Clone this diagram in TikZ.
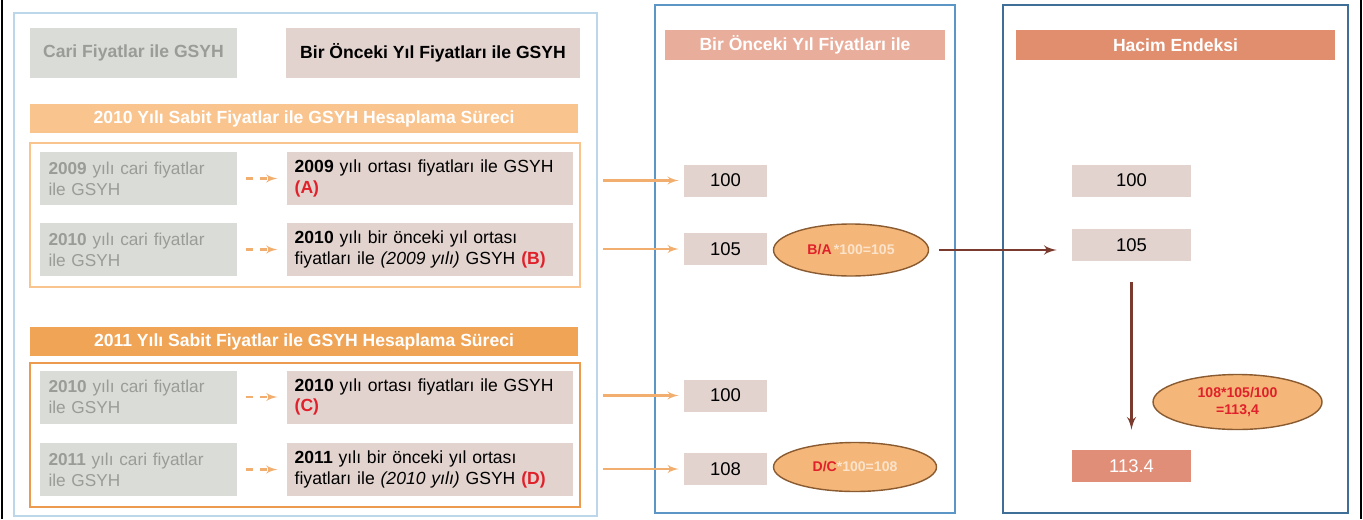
\documentclass[tikz,border=0pt]{standalone}
\usepackage{fontspec}
\setmainfont{Liberation Sans}
\usepackage{xcolor}
\usetikzlibrary{shapes.geometric, arrows, positioning, calc}

\definecolor{cariGray}{HTML}{DADCD7}
\definecolor{cariText}{HTML}{9A9C98}
\definecolor{pinkFill}{HTML}{E2D3CE}
\definecolor{hdrLight}{HTML}{F9C48E}
\definecolor{hdrDark}{HTML}{F0A455}
\definecolor{grpDark}{HTML}{EC9A4E}
\definecolor{arrOrange}{HTML}{F2AE6E}
\definecolor{panelA}{HTML}{BCD6EA}
\definecolor{panelB}{HTML}{5B96C6}
\definecolor{panelC}{HTML}{3F6F96}
\definecolor{salmonA}{HTML}{E9AD9B}
\definecolor{salmonB}{HTML}{E08E6E}
\definecolor{resFill}{HTML}{E08E78}
\definecolor{ovalFill}{HTML}{F4B779}
\definecolor{ovalLine}{HTML}{8A5A30}
\definecolor{brownArr}{HTML}{7A3B2E}
\definecolor{letterRed}{HTML}{E0202A}
\definecolor{fadeText}{HTML}{FBE3CC}

\begin{document}
\begin{tikzpicture}[
    node distance=0.5cm,
    panel/.style={rectangle, draw, minimum height=10.16cm},
    topbox/.style={rectangle, minimum height=1cm, font=\fontsize{10pt}{12pt}\selectfont\bfseries},
    header/.style={rectangle, text=white, minimum width=10.96cm, minimum height=0.54cm, font=\fontsize{10pt}{12pt}\selectfont\bfseries},
    group/.style={rectangle, draw, line width=1pt, minimum width=11cm, minimum height=2.88cm},
    cari/.style={rectangle, fill=cariGray, text=cariText, text width=3.6cm, inner xsep=0.17cm, minimum height=1.06cm, align=left, font=\fontsize{9.8pt}{11.8pt}\selectfont},
    onceki/.style={rectangle, fill=pinkFill, text width=5.4cm, inner xsep=0.16cm, minimum height=1.06cm, align=left, font=\fontsize{10pt}{11.8pt}\selectfont},
    colhead/.style={rectangle, text=white, minimum height=0.6cm, font=\fontsize{10pt}{12pt}\selectfont\bfseries},
    valbox/.style={rectangle, fill=pinkFill, minimum width=1.66cm, minimum height=0.64cm, font=\fontsize{10.5pt}{12pt}\selectfont},
    oval/.style={ellipse, draw=ovalLine, thick, fill=ovalFill, inner sep=0pt, align=center, font=\fontsize{8pt}{10pt}\selectfont\bfseries},
    oarrow/.style={-latex', line width=1.2pt, arrOrange},
    darrow/.style={-latex', line width=1.2pt, dash pattern=on 4pt off 4pt, arrOrange, shorten <=0.18cm, shorten >=0.18cm},
    barrow/.style={-latex', line width=1.5pt, brownArr}
]
    \useasboundingbox (0,0) rectangle (27.26,10.38);

    % Frame
    \draw[line width=1pt] (0.04,0) -- (0.04,10.38);
    \draw[line width=1pt] (27.22,0) -- (27.22,10.38);

    % Panels
    \node[panel, draw=panelA, line width=1pt, minimum width=11.66cm, minimum height=10.06cm] (left) at (6.11,5.09) {};
    \node[panel, draw=panelB, line width=1.5pt, minimum width=6cm] (mid) at (16.10,5.20) {};
    \node[panel, draw=panelC, line width=1.5pt, minimum width=6.9cm] (right) at (23.51,5.20) {};

    % Top boxes
    \node[topbox, fill=cariGray, text=cariText, minimum width=4.14cm] (cari) at (2.67,9.32) {Cari Fiyatlar ile GSYH};
    \node[topbox, fill=pinkFill, minimum width=5.88cm] (onc) at (8.66,9.32) {Bir Önceki Yıl Fiyatları ile GSYH};

    % 2010 process
    \node[header, fill=hdrLight] (h2010) at (6.08,8.01) {2010 Yılı Sabit Fiyatlar ile GSYH Hesaplama Süreci};
    \node[group, draw=hdrLight] (g2010) at (6.10,6.08) {};
    \node[cari] (c1) at (2.77,6.81) {\textbf{2009} yılı cari fiyatlar\\ile GSYH};
    \node[onceki, right=0.98cm of c1] (p1) {\textbf{2009} yılı ortası fiyatları ile GSYH\\\textcolor{letterRed}{\textbf{(A)}}};
    \node[cari] (c2) at (2.77,5.39) {\textbf{2010} yılı cari fiyatlar\\ile GSYH};
    \node[onceki, right=0.98cm of c2] (p2) {\textbf{2010} yılı bir önceki yıl ortası\\fiyatları ile \textit{(2009 yılı)} GSYH \textcolor{letterRed}{\textbf{(B)}}};

    % 2011 process
    \node[header, fill=hdrDark] (h2011) at (6.08,3.55) {2011 Yılı Sabit Fiyatlar ile GSYH Hesaplama Süreci};
    \node[group, draw=grpDark] (g2011) at (6.10,1.68) {};
    \node[cari] (c3) at (2.77,2.44) {\textbf{2010} yılı cari fiyatlar\\ile GSYH};
    \node[onceki, right=0.98cm of c3] (p3) {\textbf{2010} yılı ortası fiyatları ile GSYH\\\textcolor{letterRed}{\textbf{(C)}}};
    \node[cari] (c4) at (2.77,0.99) {\textbf{2011} yılı cari fiyatlar\\ile GSYH};
    \node[onceki, right=0.98cm of c4] (p4) {\textbf{2011} yılı bir önceki yıl ortası\\fiyatları ile \textit{(2010 yılı)} GSYH \textcolor{letterRed}{\textbf{(D)}}};

    % Bir Onceki Yil Fiyatlari column
    \node[colhead, fill=salmonA, minimum width=5.6cm] (mhead) at (16.10,9.48) {Bir Önceki Yıl Fiyatları ile};
    \node[valbox] (v1) at (14.51,6.77) {100};
    \node[valbox] (v2) at (14.51,5.40) {105};
    \node[valbox] (v3) at (14.51,2.47) {100};
    \node[valbox] (v4) at (14.51,1.00) {108};
    \node[oval, minimum width=3.1cm, minimum height=1.04cm] (ba) at (17.02,5.38) {\textcolor{letterRed}{B/A}\,\textcolor{fadeText}{*100=105}};
    \node[oval, minimum width=3.26cm, minimum height=0.98cm] (dc) at (17.10,1.04) {\textcolor{letterRed}{D/C}\textcolor{fadeText}{*100=108}};

    % Hacim Endeksi column
    \node[colhead, fill=salmonB, minimum width=6.38cm] (rhead) at (23.51,9.48) {Hacim Endeksi};
    \node[valbox, minimum width=2.38cm] (e1) at (22.63,6.77) {100};
    \node[valbox, minimum width=2.38cm] (e2) at (22.63,5.48) {105};
    \node[valbox, minimum width=2.38cm, fill=resFill, text=white] (e3) at (22.63,1.06) {113.4};
    \node[oval, minimum width=3.38cm, minimum height=1.1cm, text=letterRed] (bc) at (24.75,2.34) {108*105/100\\=113,4};

    % Arrows
    \draw[darrow] (c1) -- (p1);
    \draw[darrow] (c2) -- (p2);
    \draw[darrow] (c3) -- (p3);
    \draw[darrow] (c4) -- (p4);
    \draw[oarrow, shorten <=0.1cm, shorten >=0.1cm] (left.east |- v1) -- (v1);
    \draw[oarrow, shorten <=0.1cm, shorten >=0.1cm] (left.east |- v2) -- (v2);
    \draw[oarrow, shorten <=0.1cm, shorten >=0.1cm] (left.east |- v3) -- (v3);
    \draw[oarrow, shorten <=0.1cm, shorten >=0.1cm] (left.east |- v4) -- (v4);
    \draw[barrow, shorten <=0.2cm, shorten >=0.3cm] (ba.east) -- (ba.east -| e2.west);
    \draw[barrow, shorten <=0.42cm, shorten >=0.4cm] (e2) -- (e3);
\end{tikzpicture}
\end{document}
